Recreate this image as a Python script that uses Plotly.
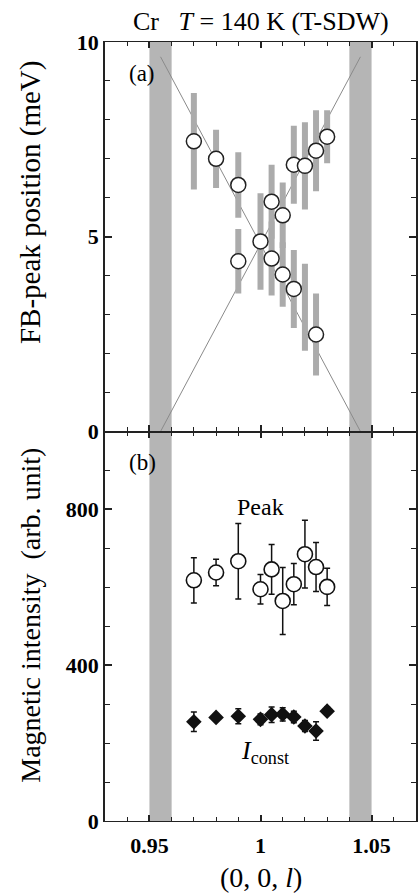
import plotly.graph_objects as go
from plotly.subplots import make_subplots

# ---- (a) FB-peak positions (meV) ----
fb_l = [0.97, 0.98, 0.99, 0.99, 1.00, 1.005, 1.005, 1.01, 1.01, 1.015, 1.015, 1.02, 1.025, 1.025, 1.03]
fb_e = [7.45, 7.0, 6.33, 4.37, 4.88, 5.9, 4.44, 5.55, 4.03, 6.85, 3.66, 6.82, 7.21, 2.49, 7.57]
fb_err = [1.24, 0.75, 0.84, 0.83, 1.24, 0.95, 0.95, 0.84, 0.83, 1.0, 1.0, 1.12, 1.04, 1.05, 0.68]

# bar without a resolved peak
fb_bar_l = [1.02]
fb_bar_e = [3.19]
fb_bar_err = [1.12]

# dispersion guide lines
disp_down_l = [0.955, 1.045]
disp_down_e = [9.62, 0.0]
disp_up_l = [0.955, 1.045]
disp_up_e = [0.0, 9.62]

# ---- (b) magnetic intensity ----
mi_l = [0.97, 0.98, 0.99, 1.00, 1.005, 1.01, 1.015, 1.02, 1.025, 1.03]
peak_int = [618, 638, 667, 595, 646, 565, 608, 685, 652, 601]
peak_err = [58, 34, 97, 38, 64, 86, 53, 87, 63, 48]
const_int = [255, 266, 269, 261, 273, 274, 267, 244, 231, 282]
const_err = [25, 8, 19, 14, 20, 17, 15, 14, 24, 10]

# shaded regions along l
bands = [(0.95, 0.96), (1.04, 1.05)]

FONT = "Liberation Serif"
GRAY_BAR = "#ababab"

fig = make_subplots(rows=2, cols=1, shared_xaxes=True, vertical_spacing=0)

fig.add_trace(go.Scatter(x=disp_down_l, y=disp_down_e, mode="lines",
                         line=dict(color="#8a8a8a", width=1), hoverinfo="skip"), row=1, col=1)
fig.add_trace(go.Scatter(x=disp_up_l, y=disp_up_e, mode="lines",
                         line=dict(color="#8a8a8a", width=1), hoverinfo="skip"), row=1, col=1)

fig.add_trace(go.Scatter(x=fb_bar_l, y=fb_bar_e, mode="markers",
                         marker=dict(size=1, opacity=0),
                         error_y=dict(type="data", array=fb_bar_err, color=GRAY_BAR,
                                      thickness=6, width=0)), row=1, col=1)
fig.add_trace(go.Scatter(x=fb_l, y=fb_e, mode="markers",
                         marker=dict(symbol="circle", size=15, color="white",
                                     line=dict(color="#222222", width=1.5)),
                         error_y=dict(type="data", array=fb_err, color=GRAY_BAR,
                                      thickness=6, width=0)), row=1, col=1)

fig.add_trace(go.Scatter(x=mi_l, y=peak_int, mode="markers",
                         marker=dict(symbol="circle", size=15, color="white",
                                     line=dict(color="#111111", width=1.6)),
                         error_y=dict(type="data", array=peak_err, color="#111111",
                                      thickness=1.5, width=3)), row=2, col=1)
fig.add_trace(go.Scatter(x=mi_l, y=const_int, mode="markers",
                         marker=dict(symbol="diamond", size=12, color="#111111",
                                     line=dict(color="#111111", width=0)),
                         error_y=dict(type="data", array=const_err, color="#111111",
                                      thickness=1.5, width=3)), row=2, col=1)

for lo, hi in bands:
    fig.add_shape(type="rect", xref="x", yref="paper", x0=lo, x1=hi, y0=0, y1=1,
                  fillcolor="#b5b5b5", line_width=0, layer="below")

axis_common = dict(showline=True, linecolor="#222222", mirror="ticks",
                   ticks="inside", tickcolor="#222222", showgrid=False, zeroline=False,
                   tickfont=dict(family=FONT, size=22, color="black", weight="bold"))

fig.update_xaxes(range=[0.93, 1.07], tickvals=[0.95, 1.0, 1.05], ticktext=["0.95", "1", "1.05"],
                 linewidth=1.2, ticklen=6, tickwidth=1.5, ticklabelstandoff=4,
                 minor=dict(dtick=0.01, tick0=0.95, ticks="inside", ticklen=4, tickwidth=1.2,
                            tickcolor="#222222"),
                 **axis_common)
fig.update_xaxes(showticklabels=False, row=1, col=1)

fig.update_yaxes(range=[0, 10], tickvals=[0, 5, 10], linewidth=1.5, ticklen=7, tickwidth=1.5,
                 minor=dict(dtick=1, ticks="inside", ticklen=5, tickwidth=1.2, tickcolor="#222222"),
                 **axis_common, row=1, col=1)
fig.update_yaxes(range=[0, 1000], tickvals=[0, 400, 800], linewidth=1.5, ticklen=7, tickwidth=1.5,
                 minor=dict(dtick=100, ticks="inside", ticklen=5, tickwidth=1.2, tickcolor="#222222"),
                 **axis_common, row=2, col=1)

txt = dict(family=FONT, color="black")
mid = dict(xanchor="center", yanchor="middle", showarrow=False)
annotations = [
    dict(text="Cr&nbsp;&nbsp;&nbsp;<i>T</i> = 140 K (T-SDW)", xref="paper", yref="paper",
         x=0.5, y=1.0, yshift=21, font=dict(size=26, **txt), **mid),
    dict(text="(a)", xref="x", yref="y", x=0.9465, y=9.2, font=dict(size=23, **txt), **mid),
    dict(text="(b)", xref="x2", yref="y2", x=0.9467, y=920, font=dict(size=23, **txt), **mid),
    dict(text="Peak", xref="x2", yref="y2", x=1.0, y=805, font=dict(size=24, **txt), **mid),
    dict(text="<i>I</i><sub>const</sub>", xref="x2", yref="y2", x=1.002, y=178,
         font=dict(size=26, **txt), **mid),
    dict(text="FB-peak position (meV)", xref="paper", yref="paper", x=-0.24, y=0.795,
         textangle=-90, font=dict(size=29, **txt), **mid),
    dict(text="Magnetic intensity&nbsp;&nbsp;(arb. unit)", xref="paper", yref="paper",
         x=-0.24, y=0.264, textangle=-90, font=dict(size=28, **txt), **mid),
    dict(text="(0, 0, <i>l</i>)", xref="paper", yref="paper", x=0.5, y=0, yshift=-56,
         font=dict(size=28, **txt), **mid),
]

fig.update_layout(width=419, height=895, margin=dict(l=105, r=1, t=42, b=74),
                  plot_bgcolor="white", paper_bgcolor="white", showlegend=False,
                  annotations=annotations)

fig.write_html("out.html")
